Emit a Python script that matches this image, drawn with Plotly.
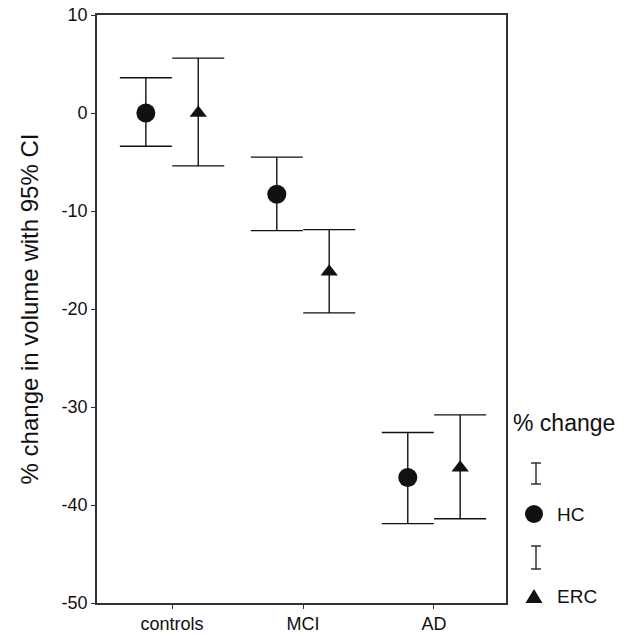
import plotly.graph_objects as go

# data (% change in volume, with 95% CI bounds)
groups = ['controls', 'MCI', 'AD']
hc_mean = [0.0, -8.3, -37.2]
hc_upper = [3.6, -4.5, -32.6]
hc_lower = [-3.4, -12.0, -41.9]
erc_mean = [0.0, -16.2, -36.2]
erc_upper = [5.6, -11.9, -30.8]
erc_lower = [-5.4, -20.4, -41.4]
y_ticks = [-50, -40, -30, -20, -10, 0, 10]

W, H = 627, 636
PLOT_L, PLOT_R, PLOT_T, PLOT_B = 97, 506, 15, 603
FONT = 'Liberation Sans, Arial, sans-serif'
INK = '#111111'


def px(x):
    return (x - PLOT_L) / (PLOT_R - PLOT_L)


def py(y):
    return (PLOT_B - y) / (PLOT_B - PLOT_T)


def shifted(offset):
    return [i + offset for i in range(len(groups))]


fig = go.Figure()

series = [
    ('HC', hc_mean, hc_upper, hc_lower, -0.2, 'circle', 19),
    ('ERC', erc_mean, erc_upper, erc_lower, 0.2, 'triangle-up', 15),
]
for name, mean, upper, lower, off, sym, size in series:
    fig.add_trace(go.Scatter(
        x=shifted(off), y=mean, mode='markers', name=name,
        marker=dict(symbol=sym, size=size, color=INK),
        error_y=dict(
            type='data', symmetric=False,
            array=[u - m for u, m in zip(upper, mean)],
            arrayminus=[m - l for m, l in zip(mean, lower)],
            color=INK, thickness=1.4, width=26,
        ),
        showlegend=False,
    ))

# hand-made SPSS style legend on the right
shapes = []
annotations = [
    dict(text='% change', x=px(511), y=py(423), xref='paper', yref='paper',
         xanchor='left', yanchor='middle', showarrow=False,
         font=dict(family=FONT, size=23, color=INK)),
    dict(text='HC', x=px(555), y=py(514), xref='paper', yref='paper',
         xanchor='left', yanchor='middle', showarrow=False,
         font=dict(family=FONT, size=19, color=INK)),
    dict(text='ERC', x=px(555), y=py(596), xref='paper', yref='paper',
         xanchor='left', yanchor='middle', showarrow=False,
         font=dict(family=FONT, size=19, color=INK)),
]
for top, bot in [(463, 484), (546, 569)]:
    line = dict(color=INK, width=1.3)
    shapes.append(dict(type='line', xref='paper', yref='paper',
                       x0=px(536), x1=px(536), y0=py(top), y1=py(bot), line=line))
    for yy in (top, bot):
        shapes.append(dict(type='line', xref='paper', yref='paper',
                           x0=px(531), x1=px(541), y0=py(yy), y1=py(yy), line=line))
shapes.append(dict(type='circle', xref='paper', yref='paper',
                   x0=px(525), x1=px(543), y0=py(505), y1=py(523),
                   fillcolor=INK, line=dict(color=INK, width=0)))
tri = [(525.5, 603), (542.5, 603), (534, 589)]
shapes.append(dict(type='path', xref='paper', yref='paper',
                   path='M {:.4f} {:.4f} L {:.4f} {:.4f} L {:.4f} {:.4f} Z'.format(
                       px(tri[0][0]), py(tri[0][1]), px(tri[1][0]), py(tri[1][1]),
                       px(tri[2][0]), py(tri[2][1])),
                   fillcolor=INK, line=dict(color=INK, width=0)))

axis_line = dict(showline=True, linecolor='#333333', linewidth=1.6, mirror=True,
                 showgrid=False, zeroline=False, ticks='outside', ticklen=4,
                 tickcolor='#333333', tickwidth=1.2)

fig.update_layout(
    width=W, height=H,
    margin=dict(l=PLOT_L, r=W - PLOT_R, t=PLOT_T, b=H - PLOT_B, autoexpand=False),
    paper_bgcolor='white', plot_bgcolor='white',
    font=dict(family=FONT, color=INK),
    xaxis=dict(range=[-0.573, 2.55], tickvals=list(range(len(groups))),
               ticktext=groups, tickfont=dict(size=18), **axis_line),
    yaxis=dict(range=[-50, 10], tickvals=y_ticks,
               ticktext=[str(v) for v in y_ticks], tickfont=dict(size=18),
               title=dict(text='% change in volume with 95% CI',
                          font=dict(size=24), standoff=16),
               **axis_line),
    shapes=shapes,
    annotations=annotations,
)

fig.write_html('out.html', config={'displayModeBar': False},
               post_script="document.body.style.margin='0';")
